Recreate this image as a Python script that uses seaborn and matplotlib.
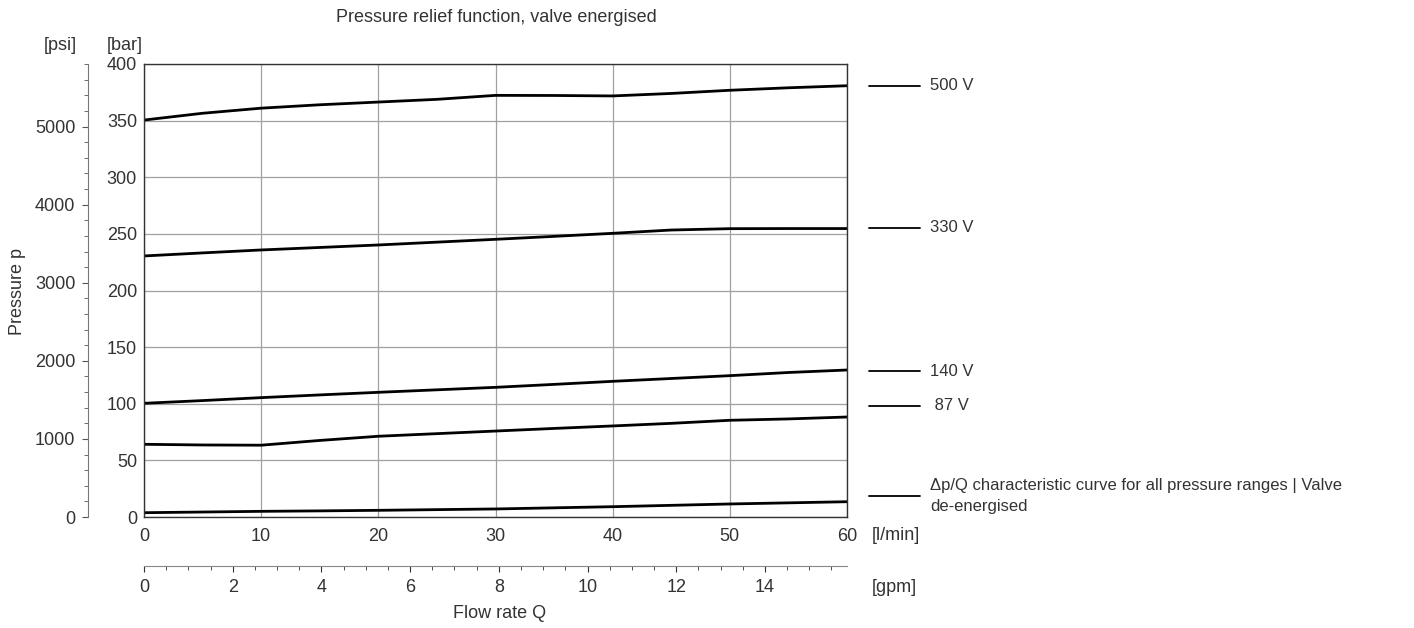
import matplotlib
matplotlib.use("Agg")
import matplotlib.pyplot as plt
import seaborn as sns
import pandas as pd
from matplotlib.lines import Line2D
from matplotlib.ticker import MultipleLocator

# --- Dati (pressione in bar, portata in l/min) ---
flow = [0, 5, 10, 15, 20, 25, 30, 35, 40, 45, 50, 55, 60]
p_500 = [350.5, 356.5, 361, 364, 366.4, 368.8, 372.3, 372.2, 371.8, 374, 376.8, 379, 380.8]
p_330 = [230.5, 233.2, 235.8, 238, 240.2, 242.7, 245.2, 247.8, 250.5, 253.4, 254.6, 254.7, 254.7]
p_140 = [100.4, 102.8, 105.4, 107.8, 110.1, 112.3, 114.5, 117.1, 119.8, 122.3, 124.8, 127.6, 129.8]
p_87 = [64.2, 63.6, 63.4, 67.6, 71.3, 73.6, 75.9, 78.2, 80.4, 82.7, 85.4, 86.6, 88.3]
p_dpq = [3.8, 4.4, 5, 5.4, 5.9, 6.5, 7.1, 8.1, 9.1, 10.3, 11.5, 12.5, 13.5]

legend_labels = ["500 V", "330 V", "140 V", " 87 V",
                 "\u0394p/Q characteristic curve for all pressure ranges | Valve\nde-energised"]
series = [p_500, p_330, p_140, p_87, p_dpq]

BAR_TO_PSI = 14.5038
LPM_TO_GPM = 1 / 3.78541

sns.set_style("white")
plt.rcParams['font.family'] = ['Liberation Sans', 'DejaVu Sans']
plt.rcParams['font.size'] = 13
TXT = "#333333"

fig = plt.figure(figsize=(14.14, 6.28), dpi=100)
ax = fig.add_axes([144 / 1414, 111 / 628, 703 / 1414, 453 / 628])

rows = []
for lab, vals in zip(legend_labels, series):
    for q, p in zip(flow, vals):
        rows.append({"Q": q, "p": p, "curve": lab})
df = pd.DataFrame(rows)

sns.lineplot(data=df, x="Q", y="p", units="curve", estimator=None,
             color="black", linewidth=2.0, ax=ax, legend=False)

ax.set_xlim(0, 60)
ax.set_ylim(0, 400)
ax.xaxis.set_major_locator(MultipleLocator(10))
ax.xaxis.set_minor_locator(MultipleLocator(2))
ax.yaxis.set_major_locator(MultipleLocator(50))
ax.yaxis.set_minor_locator(MultipleLocator(10))
ax.tick_params(which="both", direction="in", colors="#222222", labelcolor=TXT)
ax.tick_params(which="major", length=5, width=0.8)
ax.tick_params(which="minor", length=4, width=0.8)
ax.tick_params(axis="x", pad=8)
ax.tick_params(axis="y", pad=5)
ax.grid(True, which="major", color="#a0a0a0", linewidth=0.9)
ax.set_xlabel("")
ax.set_ylabel("")
for s in ax.spines.values():
    s.set_color("#333333")
    s.set_linewidth(1.0)

# --- Asse secondario in psi ---
psi = ax.secondary_yaxis(-0.0797, functions=(lambda b: b * BAR_TO_PSI, lambda p: p / BAR_TO_PSI))
psi.yaxis.set_major_locator(MultipleLocator(1000))
psi.yaxis.set_minor_locator(MultipleLocator(200))
psi.tick_params(which="both", direction="out", colors="#555555", labelcolor=TXT, pad=5)
psi.tick_params(which="major", length=4)
psi.tick_params(which="minor", length=3)
psi.spines["left"].set_color("#777777")

# --- Asse secondario in gpm ---
gpm = ax.secondary_xaxis(-0.108, functions=(lambda q: q * LPM_TO_GPM, lambda g: g / LPM_TO_GPM))
gpm.xaxis.set_major_locator(MultipleLocator(2))
gpm.xaxis.set_minor_locator(MultipleLocator(0.5))
gpm.tick_params(which="both", direction="out", colors="#333333", labelcolor=TXT, pad=5)
gpm.tick_params(which="major", length=4.5)
gpm.tick_params(which="minor", length=3)
gpm.spines["bottom"].set_color("#888888")

# titoli, etichette e offset vuoti degli assi secondari non servono
for sec in (psi, gpm):
    sec.title.set_visible(False)
    for axis in (sec.xaxis, sec.yaxis):
        axis.label.set_visible(False)
        axis.offsetText.set_visible(False)

# --- Testi ---
fig.text(496 / 1414, 1 - 17 / 628, "Pressure relief function, valve energised",
         ha="center", va="center", color=TXT)
fig.text(60 / 1414, 1 - 45 / 628, "[psi]", ha="center", va="center", color=TXT)
fig.text(125 / 1414, 1 - 45 / 628, "[bar]", ha="center", va="center", color=TXT)
fig.text(17 / 1414, 1 - 291 / 628, "Pressure p", ha="center", va="center",
         rotation=90, color=TXT)
fig.text(872 / 1414, 1 - 535 / 628, "[l/min]", ha="left", va="center", color=TXT)
fig.text(872 / 1414, 1 - 587 / 628, "[gpm]", ha="left", va="center", color=TXT)
fig.text(500 / 1414, 1 - 613 / 628, "Flow rate Q", ha="center", va="center", color=TXT)

# --- Legenda manuale sulla destra ---
leg_y = [86, 228, 371, 406, 496]
for lab, y in zip(legend_labels, leg_y):
    fy = 1 - y / 628
    fig.add_artist(Line2D([869 / 1414, 920 / 1414], [fy, fy], color="black",
                          linewidth=1.3, transform=fig.transFigure))
    fig.text(930 / 1414, fy, lab, ha="left", va="center", color=TXT,
             fontsize=12, linespacing=1.5)

fig.savefig("out.png", dpi=100)
plt.close(fig)
